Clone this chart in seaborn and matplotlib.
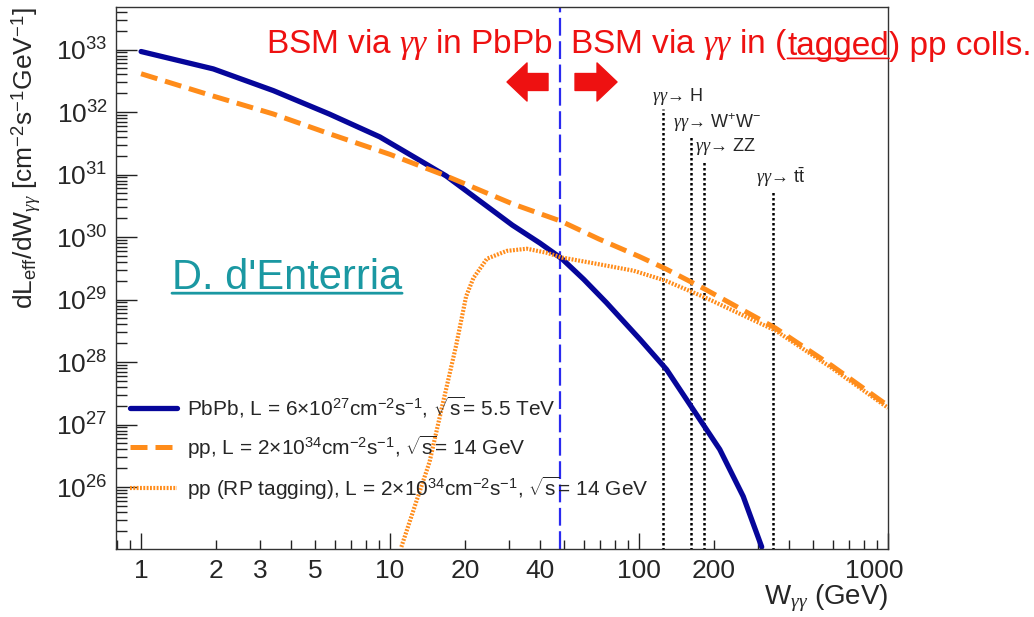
import numpy as np
import pandas as pd
import matplotlib
matplotlib.use('Agg')
import matplotlib.pyplot as plt
from matplotlib.ticker import FixedLocator, LogLocator, FuncFormatter, NullFormatter, LogFormatterSciNotation
from matplotlib.transforms import ScaledTranslation
import seaborn as sns

# Datos (W en GeV, luminosidad efectiva en cm^-2 s^-1 GeV^-1)
pbpb_w = [1, 1.95, 3.4, 5.7, 9.1, 12.8, 16.8, 31, 40, 49, 60, 74, 101, 129, 165, 211, 262, 311]
pbpb_lumi = [9.3e32, 4.9e32, 2.2e32, 9.3e31, 4.0e31, 1.8e31, 9.5e30, 1.55e30, 8.0e29, 4.5e29,
             2.1e29, 8.9e28, 2.3e28, 7.6e27, 1.74e27, 4.0e26, 7.1e25, 1.1e25]

pp_w = [1, 1.95, 3.4, 5.7, 10, 16.8, 31, 48.5, 69, 100, 128, 185, 353, 596, 1000]
pp_lumi = [4.1e32, 1.8e32, 9.3e31, 4.5e31, 2.1e31, 9.5e30, 3.4e30, 1.8e30, 9.3e29,
           4.9e29, 3.1e29, 1.45e29, 3.5e28, 8.7e27, 2.0e27]

tag_w = [11.1, 12.7, 14.4, 16.3, 18.4, 20.2, 21.6, 24.5, 29.4, 35.4, 42.6, 49, 63.6, 94.9,
         128, 185, 353, 596, 1000]
tag_lumi = [1.1e25, 5.6e25, 2.5e26, 2.2e27, 1.8e28, 1.12e29, 2.2e29, 4.5e29, 6.0e29, 6.5e29,
            5.6e29, 4.7e29, 3.9e29, 2.9e29, 2.0e29, 1.07e29, 3.2e28, 8.0e27, 1.85e27]

# Umbral PbPb / pp y procesos gamma-gamma
w_split = 48
process_labels = [r'$\gamma\gamma$→ H', r'$\gamma\gamma$→ W$^{+}$W$^{-}$',
                  r'$\gamma\gamma$→ ZZ', r'$\gamma\gamma$→ t$\bar{\rm t}$']
process_masses = [125, 161, 182, 346]
process_tops = [1.1e32, 4.2e31, 1.6e31, 5.5e30]

x_tick_labels = [1, 2, 3, 5, 10, 20, 40, 100, 200, 1000]
y_tick_exps = [26, 27, 28, 29, 30, 31, 32, 33]

legend_labels = [
    r'PbPb, L = 6$\times$10$^{27}$cm$^{-2}$s$^{-1}$, $\sqrt{\rm s}$= 5.5 TeV',
    r'pp, L = 2$\times$10$^{34}$cm$^{-2}$s$^{-1}$, $\sqrt{\rm s}$= 14 GeV',
    r'pp (RP tagging), L = 2$\times$10$^{34}$cm$^{-2}$s$^{-1}$, $\sqrt{\rm s}$= 14 GeV',
]

sns.set_style('ticks')
plt.rcParams['font.family'] = ['Liberation Sans', 'DejaVu Sans']
plt.rcParams['mathtext.fontset'] = 'custom'
plt.rcParams['mathtext.rm'] = 'Liberation Sans'
plt.rcParams['mathtext.it'] = 'Liberation Serif:italic'
plt.rcParams['mathtext.bf'] = 'Liberation Sans:bold'
plt.rcParams['mathtext.sf'] = 'Liberation Sans'

BLUE = '#06069a'
ORANGE = '#ff8c1a'
RED = '#ee1111'
TEAL = '#1a98a2'

fig = plt.figure(figsize=(10.34, 6.17), dpi=100)
ax = fig.add_axes([0.1122, 0.1102, 0.7466, 0.8785])
ax.set_xscale('log')
ax.set_yscale('log')

sns.lineplot(x=pbpb_w, y=pbpb_lumi, ax=ax, color=BLUE, lw=3.8, label=legend_labels[0])
sns.lineplot(x=pp_w, y=pp_lumi, ax=ax, color=ORANGE, lw=3.6, label=legend_labels[1])
sns.lineplot(x=tag_w, y=tag_lumi, ax=ax, color=ORANGE, lw=3.0, label=legend_labels[2])
lines = ax.get_lines()
lines[1].set_dashes((3.4, 1.6))
lines[2].set_dashes((0.45, 0.35))

ax.set_xlim(0.793, 1000)
ax.set_ylim(1.02e25, 4.8e33)

# Línea de separación PbPb / pp
ax.axvline(w_split, color='#2a2af0', lw=1.6, dashes=(8, 2.5), zorder=1)

# Umbrales de procesos
for m, top in zip(process_masses, process_tops):
    ax.plot([m, m], [1e25, top], color='black', lw=1.8, dashes=(1, 1), zorder=1)
label_pos = [(0.6943, 0.834), (0.7215, 0.788), (0.750, 0.742), (0.829, 0.686)]
for lab, (px, py) in zip(process_labels, label_pos):
    ax.text(px, py, lab, transform=ax.transAxes, fontsize=13, ha='left', va='center')

# Textos en rojo
ax.text(0.566, 0.930, r'BSM via $\gamma\gamma$ in PbPb', transform=ax.transAxes,
        fontsize=24, color=RED, ha='right', va='center')
t1 = ax.text(0.588, 0.930, r'BSM via $\gamma\gamma$ in (', transform=ax.transAxes,
             fontsize=24, color=RED, ha='left', va='center')
t2 = ax.annotate('tagged', xy=(1, 0), xycoords=t1, fontsize=24, color=RED,
                 ha='left', va='bottom')
ax.annotate(') pp colls.', xy=(1, 0), xycoords=t2, fontsize=24, color=RED,
            ha='left', va='bottom', annotation_clip=False)
ax.annotate('', xy=(1, 0.13), xycoords=t2, xytext=(0, 0.13), textcoords=t2,
            arrowprops=dict(arrowstyle='-', color=RED, lw=1.2, shrinkA=0, shrinkB=0))

# Flechas
arrow_style = 'simple,head_length=0.72,head_width=1.37,tail_width=0.61'
ax.annotate('', xy=(0.5065, 0.8616), xycoords='axes fraction',
            xytext=(0.5596, 0.8616), textcoords='axes fraction',
            arrowprops=dict(arrowstyle=arrow_style, mutation_scale=20, color=RED,
                            shrinkA=0, shrinkB=0))
ax.annotate('', xy=(0.649, 0.8616), xycoords='axes fraction',
            xytext=(0.5946, 0.8616), textcoords='axes fraction',
            arrowprops=dict(arrowstyle=arrow_style, mutation_scale=20, color=RED,
                            shrinkA=0, shrinkB=0))

# Autor
ta = ax.text(0.0725, 0.5, "D. d'Enterria", transform=ax.transAxes, fontsize=30,
             color=TEAL, ha='left', va='center')
ax.annotate('', xy=(1, 0.12), xycoords=ta, xytext=(0, 0.12), textcoords=ta,
            arrowprops=dict(arrowstyle='-', color=TEAL, lw=2, shrinkA=0, shrinkB=0))

# Ejes
ax.xaxis.set_major_locator(FixedLocator([1, 10, 100, 1000]))
ax.xaxis.set_minor_locator(LogLocator(subs=np.arange(2, 10), numticks=20))
fmt = FuncFormatter(lambda v, p: f'{v:g}' if any(np.isclose(v, t) for t in x_tick_labels) else '')
ax.xaxis.set_major_formatter(fmt)
ax.xaxis.set_minor_formatter(fmt)
ax.yaxis.set_major_locator(FixedLocator([10.0 ** e for e in y_tick_exps]))
ax.yaxis.set_minor_locator(LogLocator(subs=np.arange(2, 10), numticks=20))
ax.yaxis.set_major_formatter(LogFormatterSciNotation())
ax.yaxis.set_minor_formatter(NullFormatter())

ax.tick_params(axis='both', which='both', direction='in', labelsize=19, width=1,
               color='#222222', bottom=True, left=True, top=False, right=False)
ax.tick_params(axis='x', which='major', length=11.5, pad=7)
ax.tick_params(axis='x', which='minor', length=6.5, pad=7)
ax.tick_params(axis='y', which='major', length=15, pad=6)
ax.tick_params(axis='y', which='minor', length=8)
for s in ax.spines.values():
    s.set_color('#333333')
    s.set_linewidth(1.0)

ax.set_xlabel(r'W$_{\gamma\gamma}$ (GeV)', fontsize=20, loc='right')
ax.xaxis.set_label_coords(1.0, -0.062)
ax.set_ylabel(r'dL$_{\rm eff}$/dW$_{\gamma\gamma}$ [cm$^{-2}$s$^{-1}$GeV$^{-1}$]',
              fontsize=19, loc='top')
ax.yaxis.set_label_coords(-0.0946, 1.0)

ax.legend(loc='upper left', bbox_to_anchor=(0.018, 0.285), frameon=False,
          fontsize=15, handlelength=2.25, handletextpad=0.5, labelspacing=0.66,
          borderpad=0, borderaxespad=0)

# la etiqueta 1000 se desplaza hacia dentro, como en el original
fig.canvas.draw()
for lab in ax.get_xticklabels():
    if lab.get_text() == '1000':
        lab.set_transform(lab.get_transform() + ScaledTranslation(-0.14, 0, fig.dpi_scale_trans))

fig.savefig('out.png', dpi=100)
